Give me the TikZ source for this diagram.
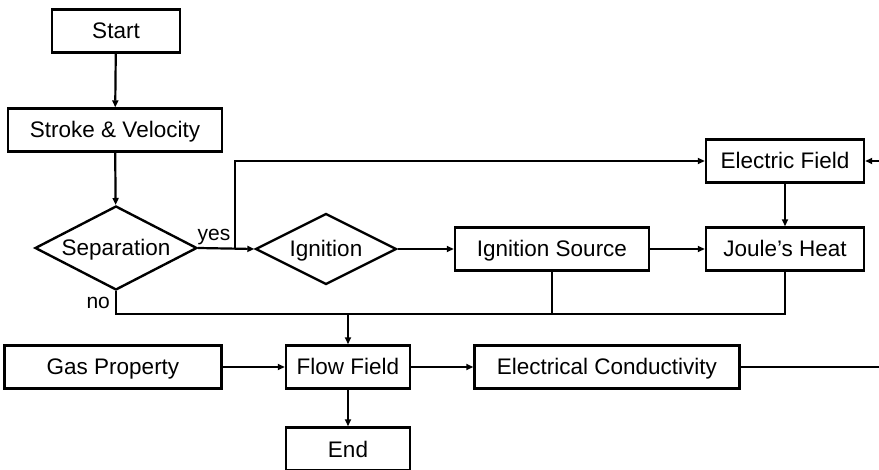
\documentclass[tikz,border=0pt]{standalone}
\usepackage{fontspec}
\setmainfont{Liberation Sans}
\usetikzlibrary{shapes.geometric,arrows.meta}
\begin{document}
\begin{tikzpicture}[x=1pt,y=-1pt,
  font=\fontsize{22.5}{26}\selectfont,
  every path/.style={line width=2.2pt},
  box/.style={draw,line width=2.4pt,inner sep=0pt,minimum height=43pt,text height=18pt,text depth=2pt},
  dia/.style={draw,diamond,line width=2.4pt,inner sep=0pt,text height=18pt,text depth=2pt},
  arr/.style={-{Triangle[length=7pt,width=6pt]},line width=2.2pt},
  lbl/.style={inner sep=0pt,font=\fontsize{21}{24}\selectfont}]
\useasboundingbox (0,0) rectangle (879,470);
\node[box,minimum width=128pt] (start) at (116,31) {Start};
\node[box,minimum width=214pt] (stroke) at (115,130) {Stroke \& Velocity};
\node[dia,aspect=1.93,minimum width=162pt,minimum height=84pt] (sep) at (116,248) {Separation};
\node[dia,aspect=1.99,minimum width=141pt,minimum height=71pt] (ign) at (326,249) {Ignition};
\node[box,minimum width=194pt] (isrc) at (552,249) {Ignition Source};
\node[box,minimum width=158pt] (joule) at (785,249) {Joule's Heat};
\node[box,minimum width=158pt] (efield) at (785,161) {Electric Field};
\node[box,minimum width=217pt] (gas) at (113,367) {Gas Property};
\node[box,minimum width=124pt] (flow) at (348,367) {Flow Field};
\node[box,minimum width=265pt] (econd) at (607,367) {Electrical Conductivity};
\node[box,minimum width=124pt] (end) at (348,449) {End};
\node[lbl] (yes) at (214,237) {yes};
\node[lbl,anchor=east] (no) at (111,303) {no};
\coordinate (br) at (235,249);
\coordinate (bus) at (348,314);
\coordinate (re) at (886,367);
\draw[arr] (start) -- (stroke);
\draw[arr] (stroke) -- (sep);
\draw[arr] (sep.east) -- (ign.west);
\draw[arr] (br) |- (efield.west);
\draw[arr] (ign.east) -- (isrc.west);
\draw[arr] (isrc) -- (joule);
\draw[arr] (efield) -- (joule);
\draw (sep.south) |- (joule.south |- bus) -- (joule.south);
\draw (isrc.south) -- (isrc.south |- bus);
\draw[arr] (bus) -- (flow.north);
\draw[arr] (gas) -- (flow);
\draw[arr] (flow) -- (econd);
\draw[arr] (flow) -- (end);
\draw[arr] (econd.east) -- (re) |- (efield.east);
\end{tikzpicture}
\end{document}
